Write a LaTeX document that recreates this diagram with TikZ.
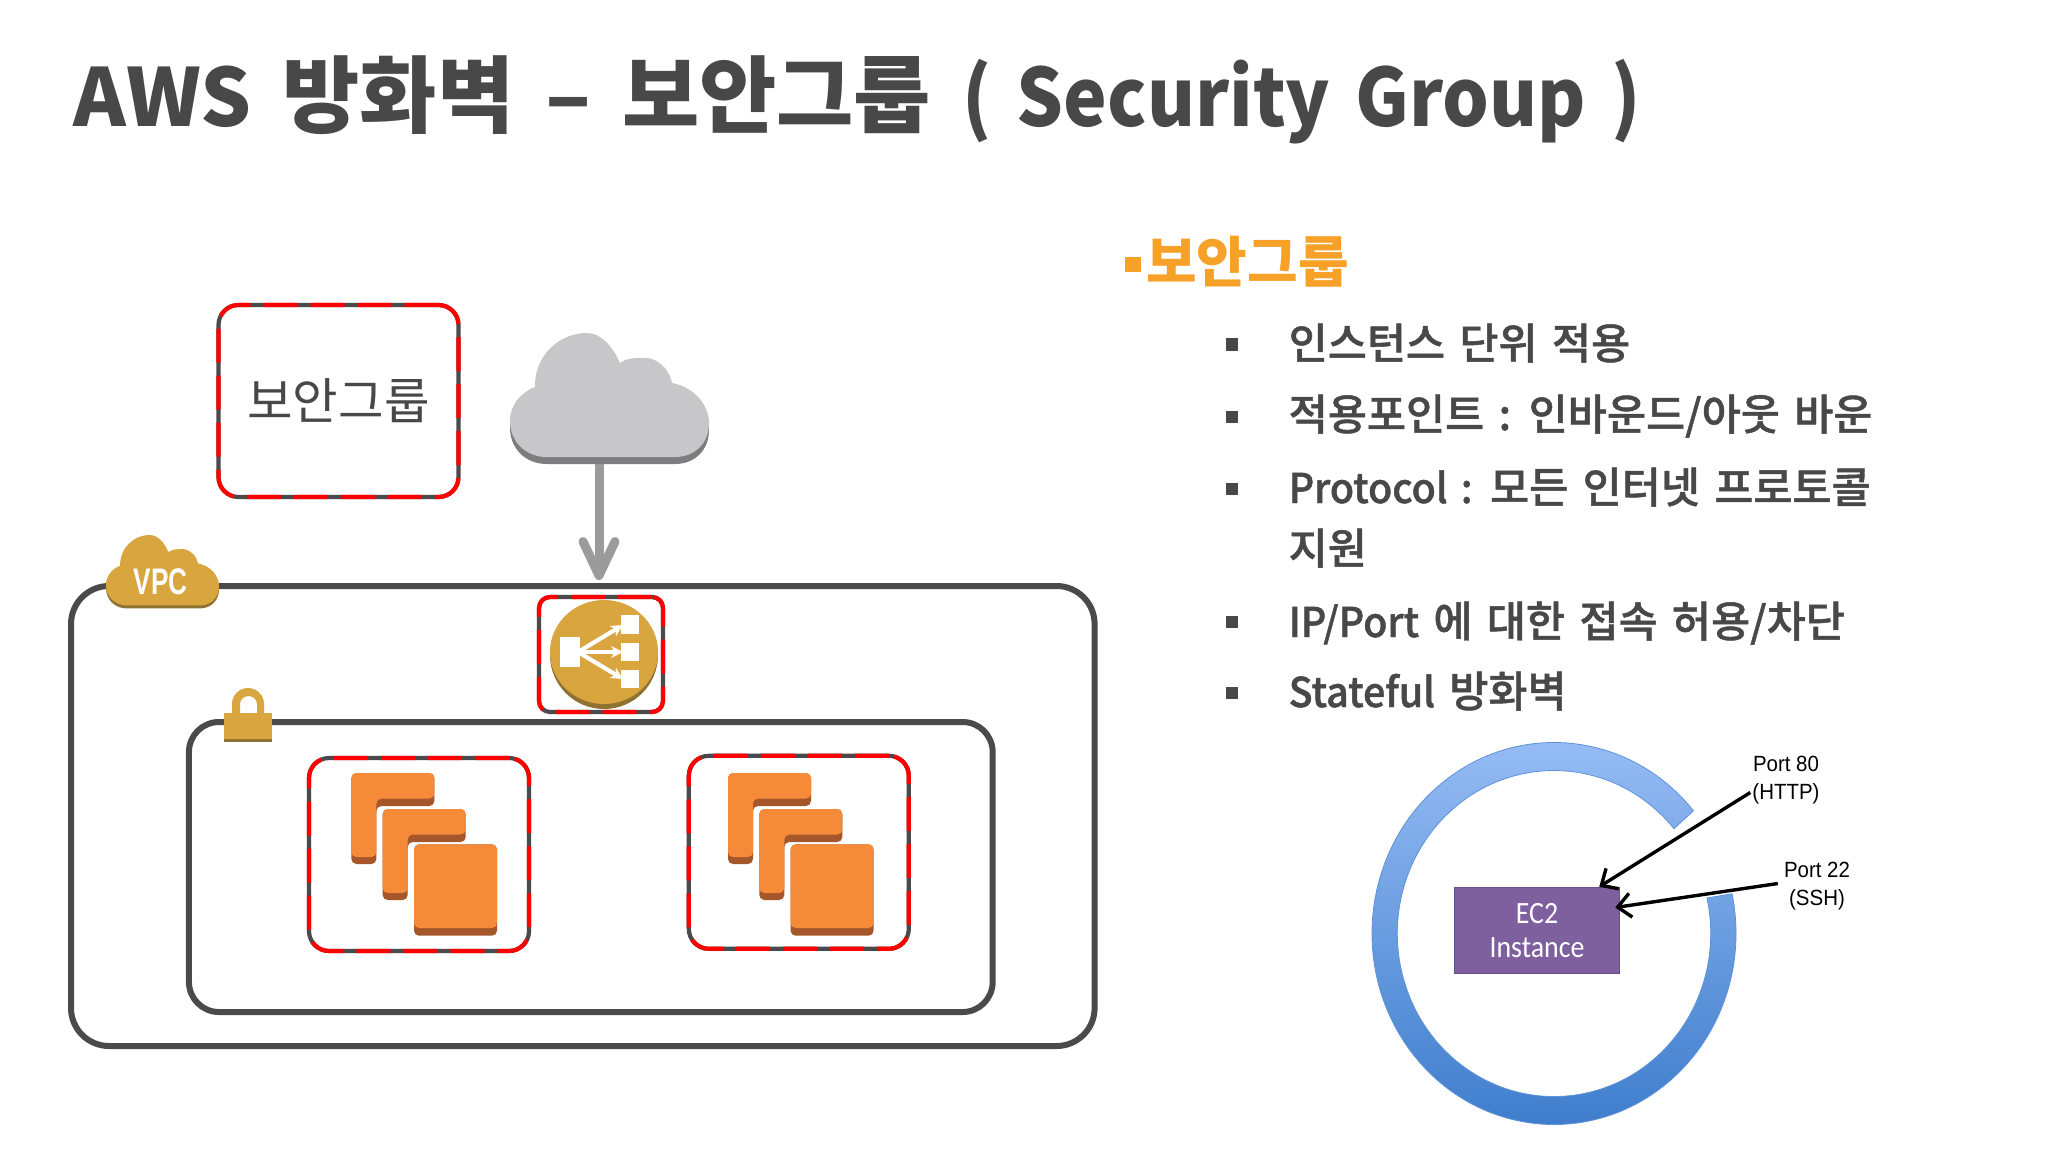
\documentclass[tikz,border=0pt]{standalone}
\usepackage{fontspec}
\setmainfont{Noto Sans CJK KR}
\newfontfamily\portfont{Liberation Sans}[FakeStretch=0.93]
\newfontfamily\boxfont{Carlito}[FakeStretch=0.9]
\newfontfamily\titlefont{Noto Sans CJK KR}[WordSpace=1.6]
\newfontfamily\titlelatin{Noto Sans CJK KR}[WordSpace=1.5,FakeStretch=0.92]
\newfontfamily\listfont{Noto Sans CJK KR Medium}[WordSpace=1.5,FakeBold=1.1]
\newfontfamily\listlatin{Noto Sans CJK KR Medium}[WordSpace=1.5,FakeStretch=0.96,FakeBold=1.1]
\newcommand{\tlat}[1]{{\titlelatin\bfseries\fontsize{80}{96}\selectfont #1}}
\newcommand{\llat}[1]{{\listlatin\fontsize{41}{49}\selectfont #1}}
\usetikzlibrary{arrows.meta,calc}
\definecolor{inkgray}{HTML}{484848}
\definecolor{linegray}{HTML}{4A4A4C}
\definecolor{headorange}{HTML}{F7A128}
\definecolor{cloudgray}{HTML}{C7C7C9}
\definecolor{clouddark}{HTML}{7D7D7F}
\definecolor{arrowgray}{HTML}{9B9B9B}
\definecolor{awsgold}{HTML}{D8A53F}
\definecolor{golddark}{HTML}{8F7232}
\definecolor{cardorange}{HTML}{F58B38}
\definecolor{carddark}{HTML}{A5562A}
\definecolor{ringtop}{HTML}{9ABFF6}
\definecolor{ringbot}{HTML}{3A7ACA}
\definecolor{ringedge}{HTML}{5F93D8}
\definecolor{ec2fill}{HTML}{7E609F}
\definecolor{ec2edge}{HTML}{6A4E8A}
\tikzset{
  sgbox/.style={rectangle,draw=linegray,line width=4.2pt,rounded corners=20pt,
                inner sep=0pt,
                postaction={draw=red,dash pattern=on 34pt off 13pt}},
  netbox/.style={rectangle,draw=linegray,line width=6pt,inner sep=0pt},
  listbullet/.style={rectangle,fill=inkgray,minimum size=12.5pt,inner sep=0pt},
  listtext/.style={anchor=base west,inner sep=0pt,text=inkgray,
                   font=\listfont\fontsize{42.5}{49}\selectfont},
  portlabel/.style={align=center,inner sep=0pt,
                    font=\portfont\fontsize{22}{28}\selectfont},
  portarrow/.style={line width=3.4pt,-{Straight Barb[length=13pt,width=24pt]}},
  elbarrow/.style={white,line width=4.2pt,-{Stealth[length=12pt,width=12pt]}},
  cloudbody/.pic={
    \path[pic actions] (37,124) .. controls (15,124) and (0,108) .. (0,88)
      .. controls (0,72) and (10,60) .. (25,54)
      .. controls (24,24) and (48,0) .. (77,0)
      .. controls (90,0) and (102,12) .. (110,30)
      .. controls (118,24) and (128,25) .. (138,25)
      .. controls (150,27) and (160,38) .. (162,50)
      .. controls (184,54) and (199,72) .. (199,90)
      .. controls (199,110) and (185,124) .. (165,124) -- cycle;
  },
  cards/.pic={
    % back card
    \fill[carddark,rounded corners=5pt] (0,0) -- (83,0) -- (83,33) -- (25,33) -- (25,91) -- (0,91) -- cycle;
    \fill[cardorange,rounded corners=5pt] (0,0) -- (83,0) -- (83,25.5) -- (25,25.5) -- (25,84) -- (0,84) -- cycle;
    % middle card
    \fill[carddark,rounded corners=5pt] (31.3,36) -- (114.3,36) -- (114.3,69) -- (56.3,69) -- (56.3,127) -- (31.3,127) -- cycle;
    \fill[cardorange,rounded corners=5pt] (31.3,36) -- (114.3,36) -- (114.3,61.5) -- (56.3,61.5) -- (56.3,120) -- (31.3,120) -- cycle;
    % front card
    \fill[carddark,rounded corners=5pt] (62.6,71.3) rectangle (145.6,162.7);
    \fill[cardorange,rounded corners=5pt] (62.6,71.3) rectangle (145.6,155);
  },
}
\begin{document}
\begin{tikzpicture}[x=1pt,y=-1pt]
  \useasboundingbox (0,0) rectangle (2048,1152);
  \fill[white] (0,0) rectangle (2048,1152);

  % title
  \node[anchor=base west,inner sep=0pt,text=inkgray,
        font=\titlefont\bfseries\fontsize{84}{96}\selectfont] (title) at (73,126)
        {{\fontsize{80}{96}\selectfont AWS} 방화벽 – 보안그룹 \tlat{( Security Group )}};

  % vpc and subnet frames
  \node[netbox,rounded corners=38pt,minimum width=1023.6pt,minimum height=460pt] (vpc) at (582.8,816) {};
  \node[netbox,rounded corners=30pt,minimum width=803.7pt,minimum height=290pt] (subnet) at (590.8,867) {};

  % security group legend
  \node[sgbox,minimum width=240pt,minimum height=192pt,text=inkgray,
        font=\fontsize{49.5}{56}\selectfont] (sg) at (338.5,401) {보안그룹};

  % arrow from internet cloud
  \coordinate (cloudout) at (599,460);
  \coordinate (vpcin) at (599,580);
  \draw[arrowgray,line width=9pt,-{Straight Barb[round,length=34pt,width=32pt]}] (cloudout) -- (vpcin);

  % internet cloud
  \pic[fill=clouddark] at (510,340) {cloudbody};
  \pic[fill=cloudgray] at (510,333) {cloudbody};

  % vpc cloud
  \pic[fill=golddark,scale=0.568] at (106,538) {cloudbody};
  \pic[fill=awsgold,scale=0.568] at (106,535) {cloudbody};
  \node[text=white,inner sep=0pt,xscale=0.76,transform shape,
        font=\portfont\bfseries\fontsize{37}{40}\selectfont] (vpclabel) at (160.5,582) {VPC};

  % lock on subnet
  \fill[awsgold] (232,716) -- (232,704) arc[start angle=180,end angle=360,x radius=16,y radius=16] -- (264,716) -- (257,716) -- (257,704) arc[start angle=360,end angle=180,x radius=8.5,y radius=8] -- (240,716) -- cycle;
  \fill[golddark] (224,713) rectangle (272,742);
  \fill[awsgold] (224,713) rectangle (272,739);

  % load balancer
  \node[sgbox,rounded corners=11pt,minimum width=124pt,minimum height=115pt] (elb) at (601,654.5) {};
  \fill[golddark] (604,655) ellipse[x radius=54,y radius=54];
  \fill[awsgold] (604,652) ellipse[x radius=54,y radius=52];
  \fill[white] (560,637) rectangle (580,667);
  \fill[white] (621,615) rectangle (639,634);
  \fill[white] (621,643) rectangle (639,661);
  \fill[white] (621,670) rectangle (639,688);
  \draw[elbarrow] (578,652) -- (623,625);
  \draw[elbarrow] (578,652) -- (623,652);
  \draw[elbarrow] (578,652) -- (623,679);

  % instance groups
  \node[sgbox,minimum width=220pt,minimum height=193pt] (grp1) at (419,854.5) {};
  \node[sgbox,minimum width=220pt,minimum height=193pt] (grp2) at (798.8,852.3) {};
  \pic at (351.4,773) {cards};
  \pic at (728,773) {cards};

  % heading and list
  \node[rectangle,fill=headorange,minimum width=16pt,minimum height=15pt,inner sep=0pt] (headb) at (1133,264.5) {};
  \node[anchor=base west,inner sep=0pt,text=headorange,
        font=\fontsize{55}{62}\selectfont\bfseries] (head) at (1146,282) {보안그룹};

  \node[listbullet] (b1) at (1232,344.5) {};
  \node[listbullet] (b2) at (1232,417) {};
  \node[listbullet] (b3) at (1232,489) {};
  \node[listbullet] (b4) at (1232,622) {};
  \node[listbullet] (b5) at (1232,693) {};
  \node[listtext] (t1) at (1288.5,359) {인스턴스 단위 적용};
  \node[listtext] (t2) at (1288.5,430) {적용포인트 : 인바운드/아웃 바운};
  \node[listtext] (t3) at (1288.5,503) {\llat{Protocol :} 모든 인터넷 프로토콜};
  \node[listtext] (t3b) at (1288.5,564) {지원};
  \node[listtext] (t4) at (1288.5,637) {\llat{IP/Port} 에 대한 접속 허용/차단};
  \node[listtext] (t5) at (1288.5,707) {\llat{Stateful} 방화벽};

  % ring with gap
  \begin{scope}[shift={(1554,933.5)}]
    \path[top color=ringtop,bottom color=ringbot,draw=ringedge,line width=0.8pt]
      (-40:182 and 191) arc[start angle=-40,end angle=-372,x radius=182,y radius=191]
      -- (-12.6:156.7 and 163) arc[start angle=-372.6,end angle=-40,x radius=156.7,y radius=163] -- cycle;
  \end{scope}

  % ec2 instance and ports
  \node[rectangle,draw=ec2edge,line width=1.5pt,fill=ec2fill,minimum width=165pt,minimum height=86pt,
        inner sep=0pt,text=white,align=center,
        font=\boxfont\fontsize{31}{34}\selectfont] (ec2) at (1537,930.5) {EC2\\Instance};
  \node[portlabel] (p80) at (1786,780.5) {Port 80\\(HTTP)};
  \node[portlabel] (p22) at (1817,886.5) {Port 22\\(SSH)};
  \draw[portarrow] ($(p80.west)+(-2,12)$) -- ($(ec2.north east)+(-21,0)$);
  \draw[portarrow] ($(p22.west)+(-6,-3)$) -- ($(ec2.east)+(-5,-23)$);
\end{tikzpicture}
\end{document}
